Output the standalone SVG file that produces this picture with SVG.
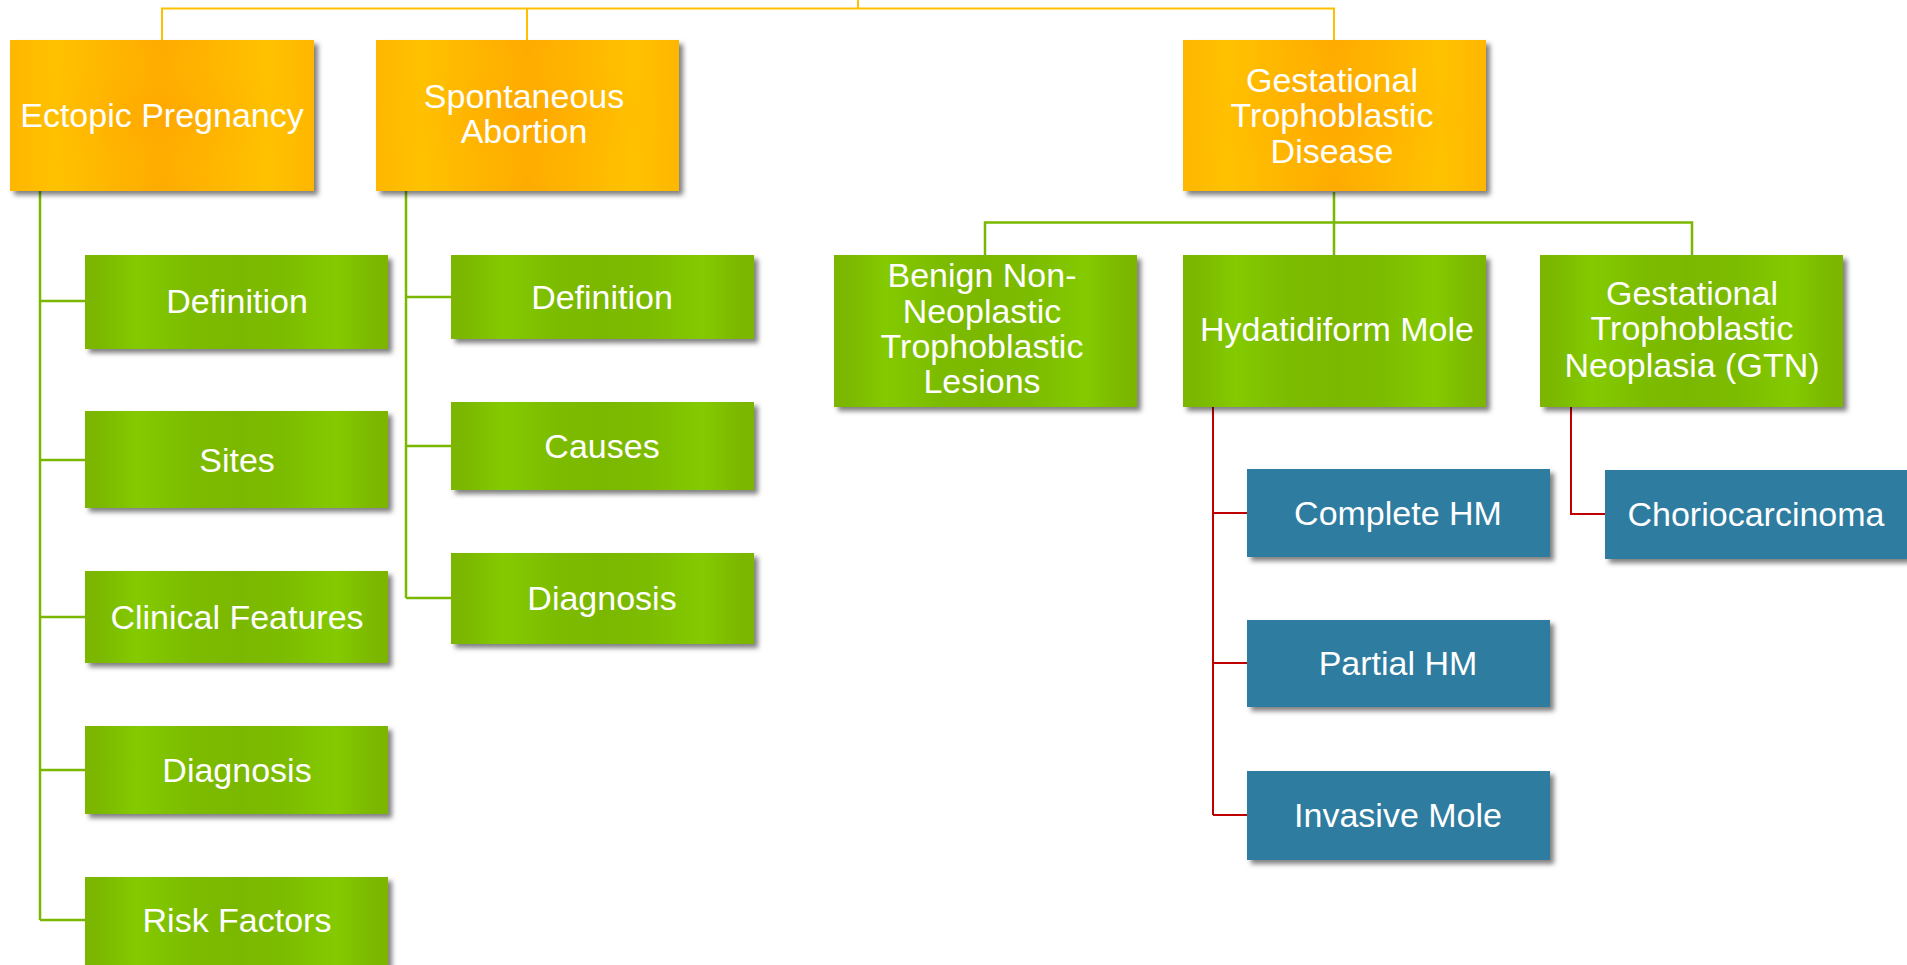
<svg xmlns="http://www.w3.org/2000/svg" width="1907" height="965" viewBox="0 0 1907 965">
<defs>
<linearGradient id="gOrange" x1="0" y1="0" x2="1" y2="0">
<stop offset="0" stop-color="#FFB600"/>
<stop offset="0.15" stop-color="#FFC200"/>
<stop offset="0.5" stop-color="#FFAA00"/>
<stop offset="0.85" stop-color="#FFC200"/>
<stop offset="1" stop-color="#FFB600"/>
</linearGradient>
<radialGradient id="gOrangeOv" cx="0.5" cy="0.5" r="0.5">
<stop offset="0" stop-color="#FFA500" stop-opacity="0.6"/>
<stop offset="1" stop-color="#FFC000" stop-opacity="0"/>
</radialGradient>
<linearGradient id="gGreen" x1="0" y1="0" x2="1" y2="0">
<stop offset="0" stop-color="#7DB500"/>
<stop offset="0.05" stop-color="#7BB800"/>
<stop offset="0.17" stop-color="#84CA00"/>
<stop offset="0.35" stop-color="#7CBC00"/>
<stop offset="0.5" stop-color="#7AB800"/>
<stop offset="0.65" stop-color="#7CBC00"/>
<stop offset="0.83" stop-color="#84CA00"/>
<stop offset="0.95" stop-color="#7BB800"/>
<stop offset="1" stop-color="#7DB500"/>
</linearGradient>
<filter id="shadow" x="-10%" y="-10%" width="130%" height="130%">
<feDropShadow dx="4" dy="4" stdDeviation="2.5" flood-color="#000" flood-opacity="0.5"/>
</filter>
</defs>
<style>
.orange{fill:url(#gOrange);filter:url(#shadow)}
.ov{fill:url(#gOrangeOv)}
.green{fill:url(#gGreen);filter:url(#shadow)}
.blue{fill:#2E7BA0;filter:url(#shadow)}
.t{font-family:"Liberation Sans",Arial,sans-serif;font-size:34px;fill:#FFFFFF;text-anchor:middle}
.co{fill:none;stroke:#FFC000;stroke-width:2}
.cg{fill:none;stroke:#7AB800;stroke-width:2.5}
.cr{fill:none;stroke:#C00000;stroke-width:2}
</style>
<g id="connectors">
<path class="co" d="M162,40 V8.5 H1334 V40 M527,8.5 V40 M858,8.5 V0"/>
<path class="cg" d="M40,191 V920 M40,301 H85 M40,460 H85 M40,617 H85 M40,770 H85 M40,920 H85"/>
<path class="cg" d="M406,191 V598 M406,297 H451 M406,446 H451 M406,598 H451"/>
<path class="cg" d="M1334,192 V255 M985,255 V222.5 H1692 V255"/>
<path class="cr" d="M1213,407 V815 M1213,513 H1247 M1213,663 H1247 M1213,815 H1247"/>
<path class="cr" d="M1571,407 V514 H1605"/>
</g>
<g id="ectopic">
<rect class="orange" x="10" y="40" width="304" height="151"/>
<rect class="ov" x="10" y="40" width="304" height="151"/>
<text class="t" x="162" y="127">Ectopic Pregnancy</text>
</g>
<g id="spontaneous">
<rect class="orange" x="376" y="40" width="303" height="151"/>
<rect class="ov" x="376" y="40" width="303" height="151"/>
<text class="t" x="524" y="108">Spontaneous</text>
<text class="t" x="524" y="143">Abortion</text>
</g>
<g id="gtd">
<rect class="orange" x="1183" y="40" width="303" height="151"/>
<rect class="ov" x="1183" y="40" width="303" height="151"/>
<text class="t" x="1332" y="92">Gestational</text>
<text class="t" x="1332" y="127">Trophoblastic</text>
<text class="t" x="1332" y="163">Disease</text>
</g>
<g id="ep-definition">
<rect class="green" x="85" y="255" width="303" height="94"/>
<text class="t" x="237" y="313">Definition</text>
</g>
<g id="ep-sites">
<rect class="green" x="85" y="411" width="303" height="97"/>
<text class="t" x="237" y="472">Sites</text>
</g>
<g id="ep-clinical">
<rect class="green" x="85" y="571" width="303" height="92"/>
<text class="t" x="237" y="629">Clinical Features</text>
</g>
<g id="ep-diagnosis">
<rect class="green" x="85" y="726" width="303" height="88"/>
<text class="t" x="237" y="782">Diagnosis</text>
</g>
<g id="ep-risk">
<rect class="green" x="85" y="877" width="303" height="92"/>
<text class="t" x="237" y="932">Risk Factors</text>
</g>
<g id="sa-definition">
<rect class="green" x="451" y="255" width="303" height="84"/>
<text class="t" x="602" y="309">Definition</text>
</g>
<g id="sa-causes">
<rect class="green" x="451" y="402" width="303" height="88"/>
<text class="t" x="602" y="458">Causes</text>
</g>
<g id="sa-diagnosis">
<rect class="green" x="451" y="553" width="303" height="91"/>
<text class="t" x="602" y="610">Diagnosis</text>
</g>
<g id="benign">
<rect class="green" x="834" y="255" width="303" height="152"/>
<text class="t" x="982" y="287">Benign Non-</text>
<text class="t" x="982" y="323">Neoplastic</text>
<text class="t" x="982" y="358">Trophoblastic</text>
<text class="t" x="982" y="393">Lesions</text>
</g>
<g id="hydatidiform">
<rect class="green" x="1183" y="255" width="303" height="152"/>
<text class="t" x="1337" y="341">Hydatidiform Mole</text>
</g>
<g id="gtn">
<rect class="green" x="1540" y="255" width="303" height="152"/>
<text class="t" x="1692" y="305">Gestational</text>
<text class="t" x="1692" y="340">Trophoblastic</text>
<text class="t" x="1692" y="377">Neoplasia (GTN)</text>
</g>
<g id="complete-hm">
<rect class="blue" x="1247" y="469" width="303" height="88"/>
<text class="t" x="1398" y="525">Complete HM</text>
</g>
<g id="partial-hm">
<rect class="blue" x="1247" y="620" width="303" height="87"/>
<text class="t" x="1398" y="675">Partial HM</text>
</g>
<g id="invasive-mole">
<rect class="blue" x="1247" y="771" width="303" height="89"/>
<text class="t" x="1398" y="827">Invasive Mole</text>
</g>
<g id="choriocarcinoma">
<rect class="blue" x="1605" y="470" width="303" height="89"/>
<text class="t" x="1756" y="526">Choriocarcinoma</text>
</g>
</svg>
